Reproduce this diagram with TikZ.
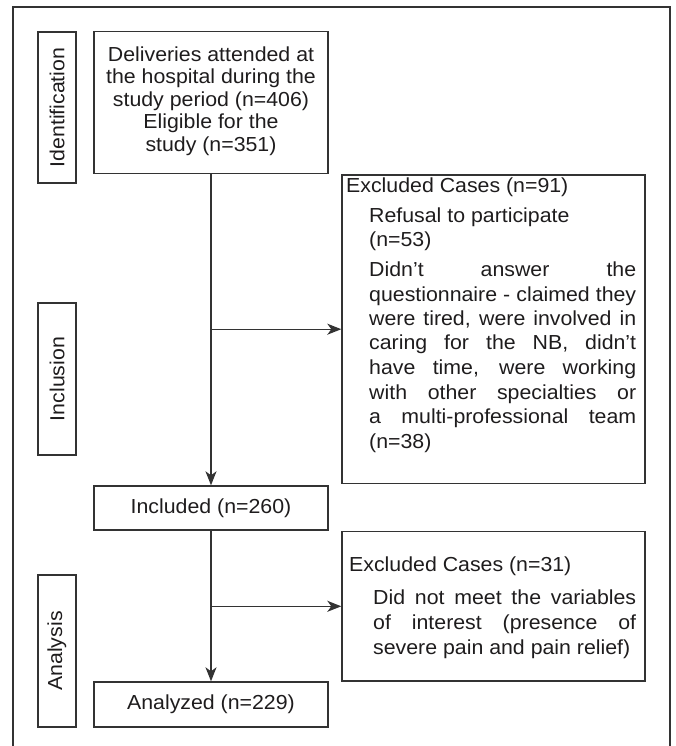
\documentclass[tikz,border=0pt]{standalone}
\usepackage{fontspec}
\setmainfont{Liberation Sans}[FakeStretch=1.05]
\usetikzlibrary{arrows.meta}
\definecolor{linec}{HTML}{333333}
\definecolor{textc}{HTML}{1E1C1D}
\begin{document}
\begin{tikzpicture}[x=1pt,y=1pt,
  box/.style={draw=linec, line width=1.4pt, rectangle, inner sep=0pt},
  lbl/.style={box, rotate=90, minimum height=38pt, text=textc,
    font=\fontsize{20.3}{22}\selectfont},
  txt/.style={inner sep=0pt, text=textc},
  conn/.style={draw=linec, line width=1.4pt},
  arr/.style={conn, -{Stealth[length=14pt,width=11pt,inset=4pt]}}
]
\useasboundingbox (0,0) rectangle (676,-746);
% outer frame (open at the bottom)
\draw[conn] (13,-746) -- (13,-7) -- (670,-7) -- (670,-746);

% stage labels
\node[lbl, minimum width=151pt] (lid) at (57,-107.5) {Identification};
\node[lbl, minimum width=152pt] (lin) at (57,-379) {Inclusion};
\node[lbl, minimum width=152pt] (lan) at (57,-651) {Analysis};

% top box
\node[box, minimum width=234pt, minimum height=142pt] (tb) at (211,-102.5) {};
\node[txt, anchor=base, font=\fontsize{20.3}{22.5}\selectfont] (tbt) at (211,-61.3)
  {\parbox[t]{232pt}{\centering Deliveries attended at\\the hospital during the\\study period (n=406)\\Eligible for the\\study (n=351)}};

% excluded 1
\node[box, minimum width=303pt, minimum height=308.3pt] (ex1) at (493.5,-329.2) {};
\node[txt, anchor=base west, font=\fontsize{20.3}{24.5}\selectfont] (ex1t) at (346,-193)
  {\parbox[t]{298pt}{Excluded Cases (n=91)\\[5pt]
   \hspace*{23pt}Refusal to participate\\
   \hspace*{23pt}(n=53)\\[5pt]
   \hspace*{23pt}\makebox[267pt][s]{Didn’t answer the}\\
   \hspace*{23pt}\makebox[267pt][s]{questionnaire - claimed they}\\
   \hspace*{23pt}\makebox[267pt][s]{were tired, were involved in}\\
   \hspace*{23pt}\makebox[267pt][s]{caring for the NB, didn’t}\\
   \hspace*{23pt}\makebox[267pt][s]{have time, were working}\\
   \hspace*{23pt}\makebox[267pt][s]{with other specialties or}\\
   \hspace*{23pt}\makebox[267pt][s]{a multi-professional team}\\
   \hspace*{23pt}(n=38)}};

% included
\node[box, minimum width=234pt, minimum height=44pt, text=textc,
  font=\fontsize{20.3}{22}\selectfont] (inc) at (211,-508) {Included (n=260)};

% excluded 2
\node[box, minimum width=303pt, minimum height=149.3pt] (ex2) at (493.5,-606.3) {};
\node[txt, anchor=base west, font=\fontsize{20.3}{25}\selectfont] (ex2t) at (349,-571.7)
  {\parbox[t]{294pt}{Excluded Cases (n=31)\\[8pt]
   \hspace*{24pt}\makebox[263pt][s]{Did not meet the variables}\\
   \hspace*{24pt}\makebox[263pt][s]{of interest (presence of}\\
   \hspace*{24pt}severe pain and pain relief)}};

% analyzed
\node[box, minimum width=234pt, minimum height=45pt, text=textc,
  font=\fontsize{20.3}{22}\selectfont] (ana) at (211,-704.5) {Analyzed (n=229)};

% connectors
\coordinate (j1) at (tb.south |- ex1.west);
\coordinate (j2) at (inc.south |- ex2.west);
\draw[arr] (tb.south) -- (inc.north);
\draw[arr] (j1) -- (ex1.west);
\draw[arr] (inc.south) -- (ana.north);
\draw[arr] (j2) -- (ex2.west);
\end{tikzpicture}
\end{document}
